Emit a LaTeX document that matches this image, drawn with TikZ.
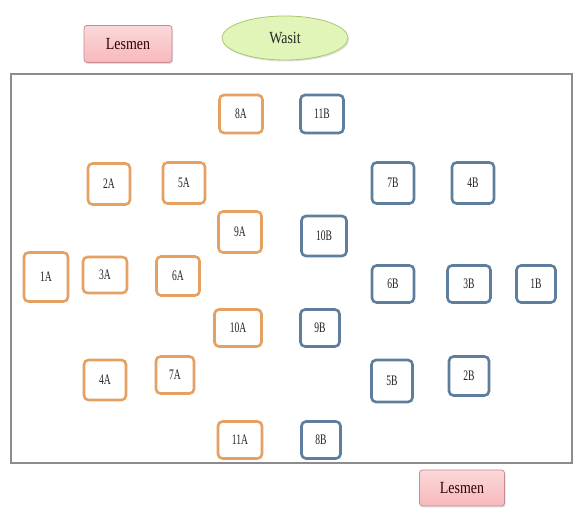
\documentclass[tikz,border=0pt]{standalone}
\usepackage{fontspec}
\setmainfont{Liberation Serif}
\newfontfamily\lblfont{Liberation Serif}[FakeStretch=0.66]
\newfontfamily\titfont{Liberation Serif}[FakeStretch=0.82]
\usetikzlibrary{shapes.geometric,shadows}
\definecolor{orC}{HTML}{E5A062}
\definecolor{blC}{HTML}{5E7E9E}
\definecolor{pinkF}{HTML}{F7B9BC}
\definecolor{pinkT}{HTML}{FBD8DA}
\definecolor{pinkD}{HTML}{C98A90}
\definecolor{greenF}{HTML}{E2F5B8}
\definecolor{greenD}{HTML}{A8C870}
\definecolor{frameC}{HTML}{8C8C8C}
\definecolor{txtC}{HTML}{222222}
\tikzset{
  seat/.style={rounded corners=4.5pt, line width=2.6pt, fill=white, inner sep=0pt,
    font=\lblfont\fontsize{14.5}{14.5}\selectfont, text=txtC},
  abox/.style={seat, draw=orC},
  bbox/.style={seat, draw=blC},
  lesmen/.style={rounded corners=3pt, draw=pinkD, line width=0.8pt, top color=pinkT, bottom color=pinkF,
    minimum width=88pt, minimum height=37pt, font=\titfont\fontsize{17}{17}\selectfont, text=black!80!red,
    drop shadow={opacity=0.25, shadow xshift=1pt, shadow yshift=-1.5pt}},
  wasit/.style={ellipse, draw=greenD, line width=0.8pt, fill=greenF, minimum width=126pt, minimum height=44pt,
    inner sep=0pt, font=\titfont\fontsize{17}{17}\selectfont, text=black!85,
    drop shadow={opacity=0.25, shadow xshift=1pt, shadow yshift=-1.5pt}},
  frame/.style={draw=frameC, line width=1.6pt}
}
\begin{document}
\begin{tikzpicture}[x=1pt,y=-1pt]
\useasboundingbox (0,0) rectangle (574,510);
\fill[white] (0,0) rectangle (574,510);
% field
\draw[frame] (11,74) rectangle (572,463);
% officials
\node[lesmen] (les1) at (128,44) {Lesmen};
\node[wasit] (wasit) at (285,38) {Wasit};
\node[lesmen, minimum width=85pt, minimum height=36pt] (les2) at (462,488) {Lesmen};
% team A
\node[abox, minimum width=43pt, minimum height=38pt] (a8) at (241,114) {8A};
\node[abox, minimum width=42pt, minimum height=41pt] (a2) at (109,184) {2A};
\node[abox, minimum width=42pt, minimum height=41pt] (a5) at (184,183) {5A};
\node[abox, minimum width=43pt, minimum height=41pt] (a9) at (240,232) {9A};
\node[abox, minimum width=44pt, minimum height=49pt] (a1) at (46,277) {1A};
\node[abox, minimum width=44pt, minimum height=36pt] (a3) at (105,275) {3A};
\node[abox, minimum width=43pt, minimum height=39pt] (a6) at (178,276) {6A};
\node[abox, minimum width=47pt, minimum height=37pt] (a10) at (238,328) {10A};
\node[abox, minimum width=42pt, minimum height=40pt] (a4) at (105,380) {4A};
\node[abox, minimum width=38pt, minimum height=37pt] (a7) at (175,375) {7A};
\node[abox, minimum width=44pt, minimum height=37pt] (a11) at (240,440) {11A};
% team B
\node[bbox, minimum width=43pt, minimum height=38pt] (b11) at (322,114) {11B};
\node[bbox, minimum width=42pt, minimum height=41pt] (b7) at (393,183) {7B};
\node[bbox, minimum width=42pt, minimum height=41pt] (b4) at (473,183) {4B};
\node[bbox, minimum width=45pt, minimum height=40pt] (b10) at (324,236) {10B};
\node[bbox, minimum width=42pt, minimum height=37pt] (b6) at (393,284) {6B};
\node[bbox, minimum width=43pt, minimum height=37pt] (b3) at (469,284) {3B};
\node[bbox, minimum width=39pt, minimum height=37pt] (b1) at (536,284) {1B};
\node[bbox, minimum width=39pt, minimum height=37pt] (b9) at (320,328) {9B};
\node[bbox, minimum width=41pt, minimum height=42pt] (b5) at (392,381) {5B};
\node[bbox, minimum width=40pt, minimum height=39pt] (b2) at (469,376) {2B};
\node[bbox, minimum width=39pt, minimum height=37pt] (b8) at (321,440) {8B};
\end{tikzpicture}
\end{document}
